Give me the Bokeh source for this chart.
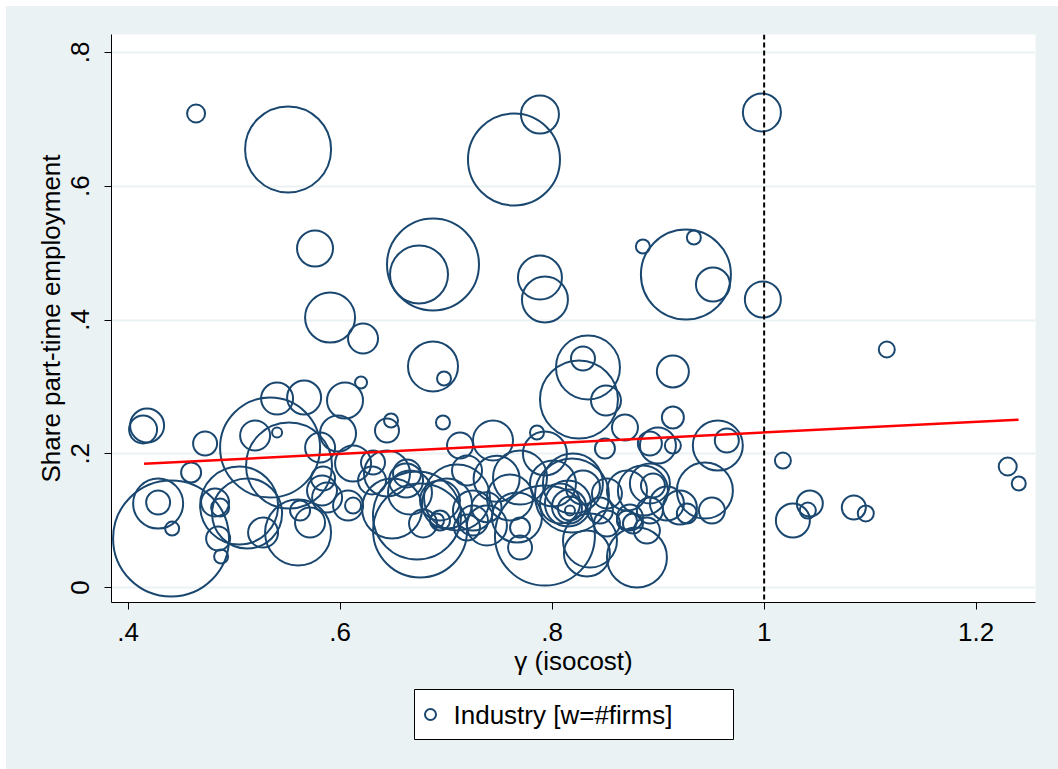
import numpy as np
from bokeh.plotting import figure
from bokeh.models import ColumnDataSource, FixedTicker, Span, Range1d, Spacer
from bokeh.core.properties import value
from bokeh.layouts import column, row
from bokeh.embed import file_html
from bokeh.resources import INLINE

# Industry-level observations: isocost gamma, part-time share, number of firms (weight)
gamma = [
    0.4641, 0.5509, 0.7885, 0.7640, 0.9979, 0.5763, 0.6876, 0.6744, 0.7885, 0.7932,
    0.9262, 0.8856, 0.9337, 0.9517, 0.9988, 0.5905, 0.6216, 0.6876, 0.6980, 0.6197,
    0.8291, 0.8338, 0.9139, 1.1157, 0.8253, 0.8508,
    0.4179, 0.4141, 0.4726, 0.4594, 0.4283, 0.4283, 0.4415, 0.4405, 0.4820, 0.4868,
    0.4849, 0.4877, 0.5047, 0.5122, 0.5273, 0.5603, 0.5622, 0.5716, 0.5339, 0.5518,
    0.5405, 0.5660, 0.5198, 0.5405, 0.5811, 0.5980, 0.6046, 0.5839, 0.5829, 0.5877,
    0.6075, 0.6122, 0.6122, 0.6310, 0.6442, 0.6480, 0.6442, 0.6970, 0.6754, 0.6725,
    0.6631, 0.6782, 0.6942, 0.7253, 0.6622, 0.6659, 0.6490, 0.6301,
    0.7131, 0.7442, 0.7857, 0.7932, 0.8498, 0.8922, 0.7197, 0.6942, 0.7008, 0.7102,
    0.7253, 0.7197, 0.6914, 0.7602, 0.7668, 0.7697, 0.7932, 0.7697, 0.8074, 0.8168,
    0.8168, 0.8159, 0.8149, 0.8196, 0.8187, 0.8328, 0.8357, 0.8517, 0.8451, 0.8706,
    0.8762, 0.8706, 0.8800, 0.8922, 0.8922, 0.8687, 0.8998, 0.9139, 0.9139, 0.9563,
    0.9648, 0.9441, 0.9507, 0.8856, 0.8951, 0.9083, 0.9205, 0.9271, 0.8734, 0.8894,
    0.8008, 0.8291, 0.8517, 0.7697, 0.7385, 0.7476, 0.7381,
    1.0177, 1.0271, 1.0431, 1.0412, 1.0846, 1.0959, 1.2298, 1.2402,
]
share = [
    0.7088, 0.6550, 0.7073, 0.6400, 0.7103, 0.5069, 0.4830, 0.4680, 0.4635, 0.4307,
    0.4680, 0.5099, 0.5234, 0.4531, 0.4307, 0.4037, 0.3723, 0.3305, 0.3125, 0.3065,
    0.3424, 0.3290, 0.3230, 0.3559, 0.2811, 0.2796,
    0.2422, 0.2363, 0.2153, 0.1720, 0.1256, 0.1271, 0.0882, 0.0733, 0.1271, 0.1196,
    0.0733, 0.0464, 0.1226, 0.1107, 0.0822, 0.0822, 0.1151, 0.0972, 0.2093, 0.1824,
    0.2826, 0.2841, 0.2273, 0.2318, 0.2093, 0.2303, 0.2796, 0.1630, 0.1450, 0.1346,
    0.1226, 0.1226, 0.1854, 0.1869, 0.1705, 0.2497, 0.2348, 0.2467, 0.0852, 0.1077,
    0.1705, 0.0957, 0.1002, 0.1002, 0.1600, 0.1420, 0.1181, 0.1600,
    0.2123, 0.2198, 0.2318, 0.2004, 0.2078, 0.2153, 0.1750, 0.1301, 0.1256, 0.1346,
    0.1151, 0.0897, 0.1002, 0.1346, 0.1047, 0.1645, 0.0778, 0.0897, 0.1256, 0.1151,
    0.1181, 0.1211, 0.1256, 0.1555, 0.1376, 0.0508, 0.0703, 0.1406, 0.1151, 0.1450,
    0.0957, 0.1002, 0.0449, 0.1555, 0.1151, 0.2392, 0.2123, 0.2123, 0.2542, 0.2123,
    0.2198, 0.1450, 0.1151, 0.1450, 0.1525, 0.1256, 0.1196, 0.1107, 0.1047, 0.0852,
    0.1555, 0.1495, 0.0957, 0.0598, 0.0927, 0.1625, 0.1201,
    0.1899, 0.1002, 0.1256, 0.1151, 0.1196, 0.1107, 0.1809, 0.1555,
]
firms = [
    81, 1849, 361, 2116, 361, 324, 2116, 841, 484, 529,
    2025, 49, 49, 289, 324, 625, 225, 625, 49, 36,
    144, 1024, 256, 64, 1521, 225,
    289, 196, 144, 100, 625, 144, 49, 3364, 196, 81,
    144, 49, 1521, 1225, 225, 1089, 100, 225, 2500, 1849,
    256, 289, 225, 25, 225, 324, 324, 144, 225, 225,
    225, 64, 324, 144, 529, 49, 144, 49, 2209, 1936,
    196, 196, 100, 225, 289, 484, 900, 196,
    169, 400, 49, 484, 100, 144, 225, 400, 625, 1089,
    400, 169, 49, 529, 625, 729, 2500, 100, 400, 25,
    144, 289, 529, 900, 1369, 529, 729, 225, 169, 400,
    100, 100, 900, 400, 169, 169, 324, 64, 121, 625,
    144, 784, 169, 625, 144, 289, 289, 100, 169, 169,
    529, 289, 169, 144, 400, 529, 225,
    64, 289, 169, 64, 144, 64, 81, 49,
]

# Weighted linear fit, evaluated at the ends of the gamma range
fit_gamma = [0.415, 1.240]
fit_share = [0.185, 0.251]

# Reference line at gamma = 1
ref_gamma = 1.0

x_ticks = [0.4, 0.6, 0.8, 1.0, 1.2]
x_tick_labels = [".4", ".6", ".8", "1", "1.2"]
y_ticks = [0.0, 0.2, 0.4, 0.6, 0.8]
y_tick_labels = ["0", ".2", ".4", ".6", ".8"]

legend_label = "Industry [w=#firms]"

BG = "#EAF2F3"
NAVY = "#1A476F"
FONT = "Liberation Sans"
FS = "26px"

W = 1052          # width of the graph region (page minus the 6px white edge)
PLOT_H = 678      # frame plus axes
LEG_H = 85        # strip that holds the legend box
BORDER_L, BORDER_R = 105, 23
FRAME_W = W - BORDER_L - BORDER_R

# marker area proportional to the number of firms
diam = [2.0 * float(np.sqrt(w)) for w in firms]
src = ColumnDataSource(data=dict(gamma=gamma, share=share, firms=firms, diam=diam))

p = figure(
    width=W, height=PLOT_H,
    output_backend="svg", toolbar_location=None,
    x_range=Range1d(0.3843, 1.256), y_range=Range1d(-0.0224, 0.8269),
    min_border_left=BORDER_L, min_border_right=BORDER_R,
    min_border_top=28, min_border_bottom=82,
)
p.background_fill_color = "white"
p.border_fill_color = BG
p.outline_line_color = None

p.xgrid.visible = False
p.ygrid.ticker = FixedTicker(ticks=y_ticks)
p.ygrid.grid_line_color = BG
p.ygrid.grid_line_width = 2

for ax, ticks, labels in ((p.xaxis, x_ticks, x_tick_labels), (p.yaxis, y_ticks, y_tick_labels)):
    ax.ticker = FixedTicker(ticks=ticks)
    ax.major_label_overrides = {t: l for t, l in zip(ticks, labels)}
    ax.axis_line_color = "black"
    ax.axis_line_width = 1
    ax.major_tick_line_color = "black"
    ax.major_tick_line_width = 1
    ax.major_tick_out = 7
    ax.major_tick_in = 0
    ax.minor_tick_line_color = None
    ax.major_label_text_font = FONT
    ax.major_label_text_font_size = FS
    ax.major_label_text_color = "black"
    ax.axis_label_text_font = FONT
    ax.axis_label_text_font_size = FS
    ax.axis_label_text_font_style = "normal"
    ax.axis_label_text_color = "black"

p.xaxis.axis_label = "γ (isocost)"
p.xaxis.major_label_standoff = 13
p.xaxis.axis_label_standoff = 2
p.yaxis.axis_label = "Share part-time employment"
p.yaxis.major_label_orientation = "vertical"
p.yaxis.major_label_standoff = 15
p.yaxis.axis_label_standoff = 3

p.scatter("gamma", "share", size="diam", marker="circle", source=src,
          fill_color=None, line_color=NAVY, line_width=2)

p.line(fit_gamma, fit_share, line_color="#FF0000", line_width=2.5)

p.add_layout(Span(location=ref_gamma, dimension="height", line_color="black",
                  line_width=2, line_dash="5 3"))

# Legend strip under the x-axis title; its ranges are in pixels of the strip
leg = figure(
    width=W, height=LEG_H,
    output_backend="svg", toolbar_location=None,
    x_range=Range1d(0, FRAME_W), y_range=Range1d(0, LEG_H),
    x_axis_type=None, y_axis_type=None,
    min_border_left=BORDER_L, min_border_right=BORDER_R,
    min_border_top=0, min_border_bottom=0,
)
leg.background_fill_color = BG
leg.border_fill_color = BG
leg.outline_line_color = None
leg.grid.visible = False

box_l, box_r, box_b, box_t = 303, 622, 30, 80
box_mid = (box_b + box_t) / 2
leg.quad(left=[box_l], right=[box_r], bottom=[box_b], top=[box_t],
         fill_color="white", line_color="black", line_width=1)
leg.scatter([box_l + 16], [box_mid], size=11, marker="circle", fill_color=None,
            line_color=NAVY, line_width=2)
leg.text([box_l + 39], [box_mid], text=[legend_label], text_baseline="middle",
         text_align="left", text_font=value(FONT), text_font_size=FS, text_color="black")

graph = column(p, leg, styles={"background-color": BG})
page = column(Spacer(width=1058, height=6),
              row(Spacer(width=6, height=PLOT_H + LEG_H), graph))
open("out.html", "w").write(file_html(page, INLINE))
